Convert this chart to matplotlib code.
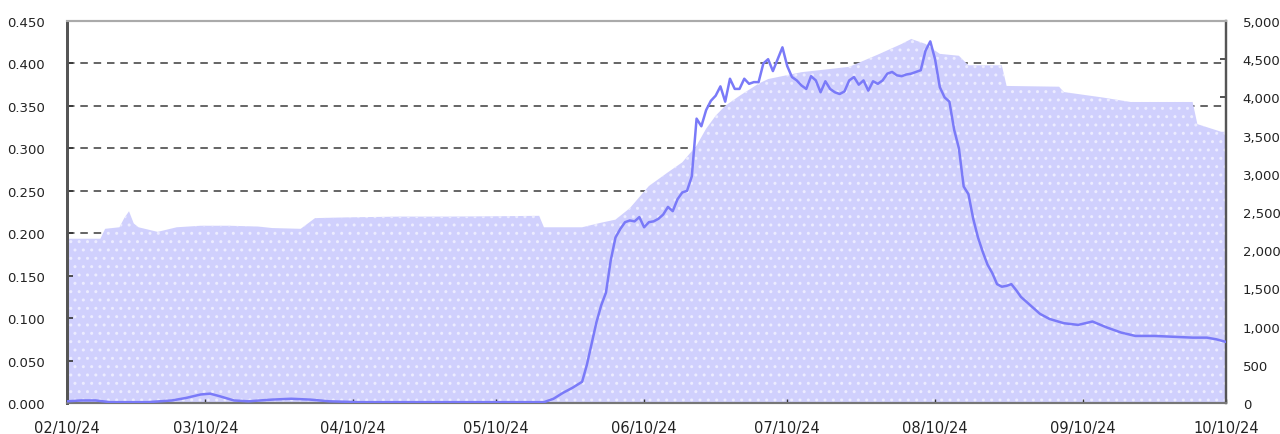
import matplotlib
matplotlib.use("Agg")
import matplotlib.pyplot as plt
import matplotlib.transforms as mtransforms
from matplotlib.ticker import FuncFormatter, MultipleLocator
import pandas as pd

# ---- data ----
line_dates = [
    "2024-02-10", "2024-02-13", "2024-02-16", "2024-02-19", "2024-02-27", "2024-03-03",
    "2024-03-06", "2024-03-09", "2024-03-11", "2024-03-13", "2024-03-16", "2024-03-19",
    "2024-03-24", "2024-03-28", "2024-04-01", "2024-04-05", "2024-04-11", "2024-04-20",
    "2024-04-30", "2024-05-11", "2024-05-20", "2024-05-22", "2024-05-24", "2024-05-26",
    "2024-05-28", "2024-05-29", "2024-05-30", "2024-05-31", "2024-06-01", "2024-06-02",
    "2024-06-03", "2024-06-04", "2024-06-05", "2024-06-06", "2024-06-07", "2024-06-08",
    "2024-06-09", "2024-06-10", "2024-06-11", "2024-06-12", "2024-06-13", "2024-06-14",
    "2024-06-15", "2024-06-16", "2024-06-17", "2024-06-18", "2024-06-19", "2024-06-20",
    "2024-06-21", "2024-06-22", "2024-06-23", "2024-06-24", "2024-06-25", "2024-06-26",
    "2024-06-27", "2024-06-28", "2024-06-29", "2024-06-30", "2024-07-01", "2024-07-02",
    "2024-07-03", "2024-07-04", "2024-07-05", "2024-07-06", "2024-07-07", "2024-07-08",
    "2024-07-09", "2024-07-10", "2024-07-11", "2024-07-12", "2024-07-13", "2024-07-14",
    "2024-07-15", "2024-07-16", "2024-07-17", "2024-07-18", "2024-07-19", "2024-07-20",
    "2024-07-21", "2024-07-22", "2024-07-23", "2024-07-24", "2024-07-25", "2024-07-26",
    "2024-07-27", "2024-07-28", "2024-07-29", "2024-07-30", "2024-07-31", "2024-08-01",
    "2024-08-02", "2024-08-03", "2024-08-04", "2024-08-05", "2024-08-06", "2024-08-07",
    "2024-08-08", "2024-08-09", "2024-08-10", "2024-08-11", "2024-08-12", "2024-08-13",
    "2024-08-14", "2024-08-15", "2024-08-16", "2024-08-17", "2024-08-18", "2024-08-19",
    "2024-08-20", "2024-08-21", "2024-08-22", "2024-08-23", "2024-08-24", "2024-08-25",
    "2024-08-26", "2024-08-27", "2024-08-28", "2024-08-30", "2024-09-01", "2024-09-03",
    "2024-09-06", "2024-09-09", "2024-09-12", "2024-09-15", "2024-09-18", "2024-09-21",
    "2024-09-25", "2024-09-29", "2024-10-03", "2024-10-06", "2024-10-08", "2024-10-10",
]
line_values = [
    0.002, 0.003, 0.003, 0.001, 0.001, 0.003,
    0.006, 0.010, 0.011, 0.008, 0.003, 0.002,
    0.004, 0.005, 0.004, 0.002, 0.001, 0.001,
    0.001, 0.001, 0.001, 0.005, 0.012, 0.018,
    0.025, 0.045, 0.070, 0.095, 0.115, 0.130,
    0.168, 0.195, 0.205, 0.213, 0.215, 0.214,
    0.219, 0.207, 0.213, 0.214, 0.217, 0.222,
    0.231, 0.226, 0.240, 0.248, 0.250, 0.267,
    0.335, 0.326, 0.345, 0.356, 0.362, 0.373,
    0.355, 0.382, 0.370, 0.370, 0.382, 0.376,
    0.378, 0.378, 0.400, 0.405, 0.391, 0.405,
    0.419, 0.397, 0.384, 0.380, 0.374, 0.370,
    0.385, 0.380, 0.366, 0.379, 0.370, 0.366,
    0.364, 0.367, 0.380, 0.384, 0.375, 0.380,
    0.368, 0.379, 0.376, 0.380, 0.388, 0.390,
    0.386, 0.385, 0.387, 0.388, 0.390, 0.392,
    0.415, 0.426, 0.405, 0.372, 0.360, 0.355,
    0.322, 0.300, 0.255, 0.246, 0.217, 0.195,
    0.178, 0.163, 0.153, 0.140, 0.137, 0.138,
    0.140, 0.133, 0.125, 0.115, 0.105, 0.099,
    0.094, 0.092, 0.096, 0.089, 0.083, 0.079,
    0.079, 0.078, 0.077, 0.077, 0.075, 0.072,
]

area_dates = [
    "2024-02-10", "2024-02-17", "2024-02-18", "2024-02-21", "2024-02-22", "2024-02-23",
    "2024-02-24", "2024-02-25", "2024-02-27", "2024-02-29", "2024-03-04", "2024-03-09",
    "2024-03-15", "2024-03-21", "2024-03-24", "2024-03-30", "2024-04-02", "2024-04-09",
    "2024-04-20", "2024-04-30", "2024-05-11", "2024-05-19", "2024-05-20", "2024-05-28",
    "2024-06-01", "2024-06-04", "2024-06-07", "2024-06-11", "2024-06-15", "2024-06-18",
    "2024-06-21", "2024-06-23", "2024-06-25", "2024-06-27", "2024-06-30", "2024-07-04",
    "2024-07-06", "2024-07-13", "2024-07-23", "2024-07-29", "2024-08-03", "2024-08-05",
    "2024-08-08", "2024-08-11", "2024-08-15", "2024-08-17", "2024-08-24", "2024-08-25",
    "2024-09-05", "2024-09-06", "2024-09-14", "2024-09-20", "2024-10-03", "2024-10-04",
    "2024-10-09", "2024-10-10",
]
area_values = [
    2150, 2150, 2280, 2300, 2420, 2510,
    2350, 2300, 2270, 2240, 2300, 2320,
    2320, 2310, 2290, 2280, 2420, 2430,
    2440, 2440, 2445, 2450, 2300, 2300,
    2360, 2400, 2550, 2840, 3020, 3150,
    3370, 3590, 3760, 3890, 4020, 4180,
    4240, 4330, 4400, 4560, 4700, 4765,
    4700, 4570, 4545, 4420, 4420, 4150,
    4140, 4070, 4000, 3940, 3940, 3650,
    3550, 3550,
]

x_tick_dates = ["2024-02-10", "2024-03-10", "2024-04-10", "2024-05-10", "2024-06-10",
                "2024-07-10", "2024-08-10", "2024-09-10", "2024-10-10"]
x_tick_labels = ["02/10/24", "03/10/24", "04/10/24", "05/10/24", "06/10/24",
                 "07/10/24", "08/10/24", "09/10/24", "10/10/24"]
grid_levels = [0.20, 0.25, 0.30, 0.35, 0.40]

# ---- figure ----
fig = plt.figure(figsize=(12.8, 4.35), dpi=100)
ax = fig.add_axes([67 / 1280, 31 / 435, (1226 - 67) / 1280, (404 - 22) / 435])
ax2 = ax.twinx()
ax.set_zorder(2)
ax2.set_zorder(1)
ax.patch.set_visible(False)

ld = pd.to_datetime(line_dates)
ad = pd.to_datetime(area_dates)
xt = pd.to_datetime(x_tick_dates)

plt.rcParams['hatch.linewidth'] = 1.0
ax2.fill_between(ad, area_values, 0, facecolor="#d0d0fd",
                 edgecolor="#ececff", hatch="..", linewidth=0, zorder=2)

# grid lines (left-axis levels), behind the area
gtrans = mtransforms.blended_transform_factory(ax2.transAxes, ax.transData)
for g in grid_levels:
    ax2.plot([0, 1], [g, g], transform=gtrans, color="#4a4a4a", lw=1.2,
             dashes=(4.5, 3.5), zorder=1)

ax.plot(ld, line_values, color="#7a7af8", lw=1.8, zorder=3)

ax.set_xlim(xt[0], xt[-1])
ax.set_ylim(0, 0.45)
ax2.set_ylim(0, 5000)

ax.yaxis.set_major_locator(MultipleLocator(0.05))
ax.yaxis.set_major_formatter(FuncFormatter(lambda v, p: f"{v:.3f}"))
ax2.yaxis.set_major_locator(MultipleLocator(500))
ax2.yaxis.set_major_formatter(FuncFormatter(lambda v, p: f"{int(round(v)):,}"))

ax.set_xticks(xt)
ax.set_xticklabels(x_tick_labels)

ax.tick_params(axis="y", direction="in", length=4, width=1.2, color="#333333",
               labelsize=9.5, pad=16, labelcolor="#222222")
ax2.tick_params(axis="y", direction="in", length=4, width=1.2, color="#333333",
                labelsize=9.5, pad=12, labelcolor="#222222")
ax.tick_params(axis="x", direction="in", length=3, width=1, color="#333333",
               labelsize=10.5, pad=12, labelcolor="#222222")

for a in (ax, ax2):
    a.spines["left"].set_color("#555555")
    a.spines["left"].set_linewidth(2)
    a.spines["right"].set_color("#555555")
    a.spines["right"].set_linewidth(1.6)
    a.spines["top"].set_color("#aaaaaa")
    a.spines["top"].set_linewidth(1.5)
    a.spines["bottom"].set_color("#777777")
    a.spines["bottom"].set_linewidth(1.5)

fig.savefig("out.png", dpi=100)
